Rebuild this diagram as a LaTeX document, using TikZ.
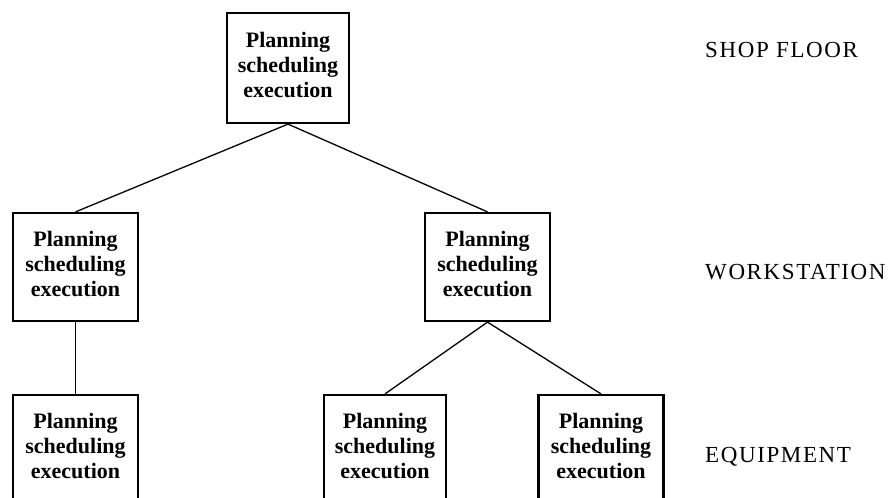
\documentclass[tikz,border=0pt]{standalone}
\usepackage{fontspec}
\setmainfont{Liberation Serif}
\begin{document}
\begin{tikzpicture}[x=1pt,y=-1pt,
  levelbox/.style={draw=black, line width=2.2pt, minimum width=125pt, minimum height=108pt,
    inner sep=0pt, text depth=6pt, align=center, font=\bfseries\fontsize{22}{25}\selectfont},
  levellabel/.style={anchor=base west, inner sep=0pt,
    font=\addfontfeature{LetterSpace=7}\fontsize{23}{26}\selectfont},
  link/.style={draw=black, line width=1.3pt}]
  \useasboundingbox (0,0) rectangle (892,498);
  \clip (0,0) rectangle (892,498);

  % shop floor level
  \node[levelbox, minimum width=122pt, minimum height=110pt] (top) at (288,68)
    {Planning\\scheduling\\execution};

  % workstation level
  \node[levelbox] (wsL) at (75.5,267) {Planning\\scheduling\\execution};
  \node[levelbox] (wsR) at (487.5,267) {Planning\\scheduling\\execution};

  % equipment level (boxes run past the lower edge)
  \node[levelbox] (eqL) at (75.5,449) {Planning\\scheduling\\execution};
  \node[levelbox, minimum width=122pt] (eqM) at (385,449) {Planning\\scheduling\\execution};
  \node[levelbox] (eqR) at (601,449) {Planning\\scheduling\\execution};

  % hierarchy links
  \draw[link] (top.south) -- (wsL.north);
  \draw[link] (top.south) -- (wsR.north);
  \draw[link] (wsL.south) -- (eqL.north);
  \draw[link] (wsR.south) -- (eqM.north);
  \draw[link] (wsR.south) -- (eqR.north);

  % level names
  \node[levellabel] (lshop) at (705,57) {SHOP FLOOR};
  \node[levellabel] (lws) at (705,279) {WORKSTATION};
  \node[levellabel] (leq) at (705,462) {EQUIPMENT};
\end{tikzpicture}
\end{document}
